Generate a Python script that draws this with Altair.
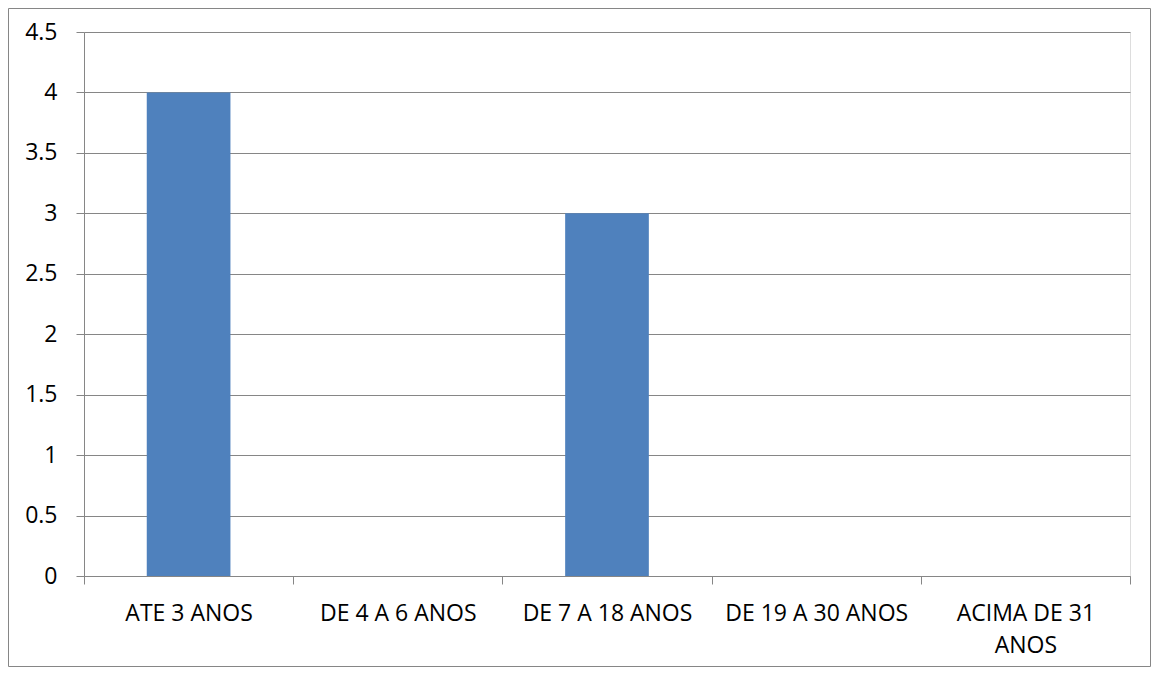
import altair as alt
import pandas as pd

categories = ["ATE 3 ANOS", "DE 4 A 6 ANOS", "DE 7 A 18 ANOS", "DE 19 A 30 ANOS", "ACIMA DE 31 ANOS"]
values = [4, 0, 3, 0, 0]

df = pd.DataFrame({"cat": categories, "val": values})

W, H = 1046, 544
PL, PT = 76, 24
PR, PB = 21, 91
GRAY = "#868686"
FONT = "Open Sans"

border = alt.Chart(pd.DataFrame({"k": [0]})).mark_rect(
    fill="transparent", stroke=GRAY, strokeWidth=1, clip=False
).encode(
    x=alt.value(-PL + 0.5),
    x2=alt.value(W + PR - 0.5),
    y=alt.value(-PT + 0.5),
    y2=alt.value(H + PB - 0.5),
)

bars = alt.Chart(df).mark_bar(color="#4F81BD", width={"band": 0.4}).encode(
    x=alt.X(
        "cat:N",
        sort=categories,
        title=None,
        scale=alt.Scale(paddingInner=0, paddingOuter=0),
        axis=alt.Axis(
            labelAngle=0,
            tickBand="extent",
            tickSize=8,
            tickColor=GRAY,
            domainColor=GRAY,
            labelPadding=18,
            labelFont=FONT,
            labelFontSize=23,
            labelColor="#000000",
            labelLineHeight=32,
            labelLimit=0,
            labelExpr="datum.label == 'ACIMA DE 31 ANOS' ? ['ACIMA DE 31', 'ANOS'] : datum.label",
            grid=False,
        ),
    ),
    y=alt.Y(
        "val:Q",
        title=None,
        scale=alt.Scale(domain=[0, 4.5], nice=False),
        axis=alt.Axis(
            values=[0, 0.5, 1, 1.5, 2, 2.5, 3, 3.5, 4, 4.5],
            format=".2~f",
            tickSize=8,
            tickColor=GRAY,
            domainColor=GRAY,
            gridColor=GRAY,
            gridOpacity=1,
            grid=True,
            labelPadding=19,
            labelFont=FONT,
            labelFontSize=23,
            labelColor="#000000",
        ),
    ),
)

chart = alt.layer(border, bars).properties(
    width=W,
    height=H,
    autosize=alt.AutoSizeParams(type="none"),
    padding={"left": PL, "top": PT, "right": PR, "bottom": PB},
).configure_view(stroke=None).configure(background="white")

chart.save("out.html", embed_options={"renderer": "svg", "actions": False})
